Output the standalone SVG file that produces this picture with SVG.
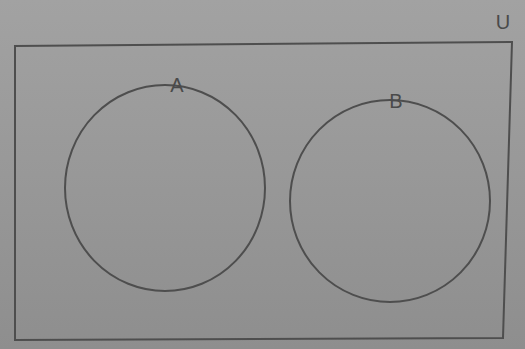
<svg xmlns="http://www.w3.org/2000/svg" width="525" height="349" viewBox="0 0 525 349">
<defs>
<linearGradient id="bg" x1="0" y1="0" x2="0" y2="1">
<stop offset="0" stop-color="#a2a2a2"/>
<stop offset="1" stop-color="#8e8e8e"/>
</linearGradient>
<style>
.ln{fill:none;stroke:#4e4e4e;stroke-width:2}
.lb{font-family:"Liberation Sans",Arial,sans-serif;font-size:20px;fill:#4a4a4a;text-anchor:middle}
</style>
</defs>
<rect width="525" height="349" fill="url(#bg)"/>
<g id="universe">
<path class="ln" d="M14,46 L513,42 M15,47 L15,340 L503,338 L512,42"/>
<text class="lb" x="503" y="29">U</text>
</g>
<g id="setA">
<ellipse class="ln" cx="165" cy="188" rx="100" ry="103"/>
<text class="lb" x="177" y="92">A</text>
</g>
<g id="setB">
<ellipse class="ln" cx="390" cy="201" rx="100" ry="101"/>
<text class="lb" x="396" y="108">B</text>
</g>
<g id="connectors"/>
</svg>
